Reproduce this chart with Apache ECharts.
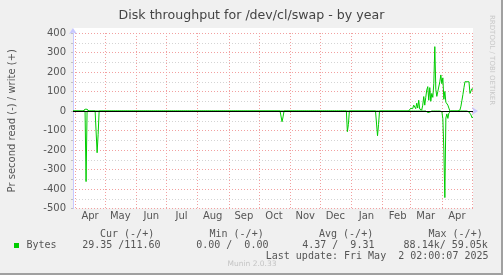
<!DOCTYPE html>
<html>
<head>
<meta charset="utf-8">
<script src="https://cdn.jsdelivr.net/npm/echarts@6/dist/echarts.min.js"></script>
<style>
html,body{margin:0;padding:0;background:#f0f0f0;}
#chart{width:503px;height:275px;}
</style>
</head>
<body>
<div id="chart"></div>
<script>
// ---- data ----
const startDate = '2024-03-30';
const endDate = '2025-05-02';
const monthLabels = ['Apr','May','Jun','Jul','Aug','Sep','Oct','Nov','Dec','Jan','Feb','Mar','Apr'];

// write (+) : bytes per second
const writeDates = ['2024-04-11','2024-04-12','2024-04-13',
  '2025-03-01','2025-03-02','2025-03-03','2025-03-04','2025-03-05','2025-03-06','2025-03-07','2025-03-08','2025-03-09','2025-03-10',
  '2025-03-11','2025-03-12','2025-03-13','2025-03-14','2025-03-15','2025-03-16','2025-03-17','2025-03-18','2025-03-19','2025-03-20',
  '2025-03-21','2025-03-22','2025-03-23','2025-03-24','2025-03-25','2025-03-26','2025-03-27','2025-03-28','2025-03-29','2025-03-30',
  '2025-03-31','2025-04-01','2025-04-02','2025-04-03','2025-04-04','2025-04-05','2025-04-06','2025-04-07','2025-04-08',
  '2025-04-19','2025-04-20','2025-04-21','2025-04-22','2025-04-23','2025-04-24','2025-04-25','2025-04-26','2025-04-27','2025-04-28',
  '2025-04-29','2025-04-30','2025-05-01','2025-05-02'];
const writeValues = [9,9,9,
  14,20,12,30,39,12,40,15,55,10,
  0,5,30,74,30,70,108,125,55,120,
  50,90,70,140,330,110,75,100,110,150,
  185,140,170,60,100,45,48,30,15,
  5,25,55,85,120,150,158,150,160,150,
  90,100,115,110];

// read (-) : bytes per second, drawn negative
const readDates = ['2024-04-12','2024-04-23','2024-04-24','2024-10-24','2024-10-25','2024-12-28','2024-12-29',
  '2025-01-27','2025-01-28','2025-03-15','2025-03-17','2025-03-18','2025-03-20',
  '2025-04-01','2025-04-02','2025-04-03','2025-04-04','2025-04-05','2025-04-06','2025-04-07','2025-04-08',
  '2025-04-28','2025-04-29','2025-04-30','2025-05-01','2025-05-02'];
const readValues = [-362,-214,-120,-55,-30,-106,-70,
  -127,-70,-5,-8,-8,-6,
  -3,-40,-200,-444,-36,-15,-38,-10,
  -5,-10,-20,-35,-30];

const legendHeaders = ['Cur (-/+)','Min (-/+)','Avg (-/+)','Max (-/+)'];
const legendValues = ['29.35 /111.60','0.00 /  0.00','4.37 /  9.31','88.14k/ 59.05k'];
const legendName = 'Bytes';
const lastUpdate = 'Last update: Fri May  2 02:00:07 2025';

// ---- build categories ----
function ymd(d){return d.toISOString().slice(0,10);}
const categories = [];
for (let d = new Date(startDate+'T00:00:00Z'); ymd(d) <= endDate; d.setUTCDate(d.getUTCDate()+1)) {
  categories.push(ymd(d));
}
function fill(dates, vals){
  const m = {}; dates.forEach((d,i)=>m[d]=vals[i]);
  return categories.map(c => (c in m) ? m[c] : 0);
}
const writeSeries = fill(writeDates, writeValues);
const readSeries = fill(readDates, readValues);

const isMonthStart = (i, v) => v.slice(8,10) === '01';
const isMidMonth = (i, v) => v.slice(8,10) === '16';
function monthLabel(v){
  const y = +v.slice(0,4), m = +v.slice(5,7);
  return monthLabels[(y-2024)*12 + m - 4] || '';
}

const chart = echarts.init(document.getElementById('chart'), null, {renderer:'canvas'});
const sans = 'DejaVu Sans';
const mono = 'DejaVu Sans Mono';
const txt = '#555555';

const graphics = [
  {type:'rect', shape:{x:501,y:0,width:2,height:275}, style:{fill:'#a0a0a0'}, silent:true},
  {type:'rect', shape:{x:0,y:273,width:503,height:2}, style:{fill:'#a0a0a0'}, silent:true},
  {type:'rect', z:-1, shape:{x:73,y:28,width:400,height:5}, style:{fill:'#ffffff'}, silent:true},
  {type:'text', x:492, y:15, rotation:-Math.PI/2, style:{text:'RRDTOOL / TOBI OETIKER', font:'7px '+sans, fill:'#c8c8c8', textAlign:'left', textVerticalAlign:'middle'}},
  {type:'rect', shape:{x:14,y:243,width:5,height:5}, style:{fill:'#00cc00'}},
  {type:'text', x:26.5, y:245.5, style:{text:legendName, font:'10px '+mono, fill:txt, textVerticalAlign:'middle'}},
  {type:'text', x:488.5, y:256.5, style:{text:lastUpdate, font:'10px '+mono, fill:txt, textAlign:'right', textVerticalAlign:'middle'}},
  {type:'text', x:252, y:264.5, style:{text:'Munin 2.0.33', font:'7.5px '+sans, fill:'#c4c4c4', textAlign:'center', textVerticalAlign:'middle'}}
];
const headX = [100, 209.5, 319, 428.5];
const valX = [82.2, 196.2, 302.2, 403.6];
legendHeaders.forEach((h,i)=>graphics.push({type:'text', x:headX[i], y:234, style:{text:h, font:'10px '+mono, fill:txt, textVerticalAlign:'middle'}}));
legendValues.forEach((h,i)=>graphics.push({type:'text', x:valX[i], y:245.5, style:{text:h, font:'10px '+mono, fill:txt, textVerticalAlign:'middle'}}));

chart.setOption({
  animation:false,
  backgroundColor:'#f0f0f0',
  title:{text:'Disk throughput for /dev/cl/swap - by year', left:'center', top:4,
    textStyle:{fontFamily:sans, fontSize:12.6, fontWeight:'normal', color:'#444444'}},
  grid:{left:73, right:30, top:33, bottom:66.5, show:true, backgroundColor:'#ffffff', borderWidth:0,
    containLabel:false, outerBoundsMode:'none'},
  xAxis:{type:'category', data:categories, boundaryGap:false,
    axisLine:{show:true, lineStyle:{color:'#c8c8ff', width:1}, symbol:['none','arrow'], symbolSize:[6,6], symbolOffset:[0,5]},
    axisTick:{show:true, interval:isMonthStart, length:2, lineStyle:{color:'#f2a0a0'}},
    axisLabel:{interval:isMidMonth, formatter:monthLabel, fontFamily:sans, fontSize:10, color:txt, margin:3},
    splitLine:{show:true, interval:isMonthStart, lineStyle:{color:'#f2a0a0', type:[1,2], width:1}}
  },
  yAxis:{type:'value', min:-500, max:400, interval:100,
    name:'Pr second read (-) / write (+)', nameLocation:'middle', nameGap:56,
    nameTextStyle:{fontFamily:sans, fontSize:10, color:txt},
    axisLine:{show:true, lineStyle:{color:'#c8c8ff', width:1}, symbol:['none','arrow'], symbolSize:[6,6], symbolOffset:[0,5]},
    axisTick:{show:true, length:2, inside:false, lineStyle:{color:'#c0c0c0'}},
    minorTick:{show:true, splitNumber:2, length:2, lineStyle:{color:'#c0c0c0'}},
    axisLabel:{fontFamily:sans, fontSize:10, color:txt, margin:7},
    splitLine:{show:true, lineStyle:{color:'#f2a0a0', type:[1,2], width:1}},
    minorSplitLine:{show:true, lineStyle:{color:'#d4d4d4', type:[1,2], width:1}}
  },
  series:[
    {name:'read', type:'line', data:readSeries, symbol:'none', sampling:'none',
      lineStyle:{color:'#00cc00', width:1}, itemStyle:{color:'#00cc00'}, z:3},
    {name:'write', type:'line', data:writeSeries, symbol:'none', sampling:'none',
      lineStyle:{color:'#00cc00', width:1}, itemStyle:{color:'#00cc00'}, z:3},
    {name:'zero', type:'line', data:[], symbol:'none', z:5, silent:true,
      markLine:{silent:true, symbol:['none','none'], label:{show:false}, animation:false, z:5,
        lineStyle:{color:'#000000', width:1, type:'solid'}, data:[{yAxis:0}]}}
  ],
  graphic:graphics
});
</script>
</body>
</html>
